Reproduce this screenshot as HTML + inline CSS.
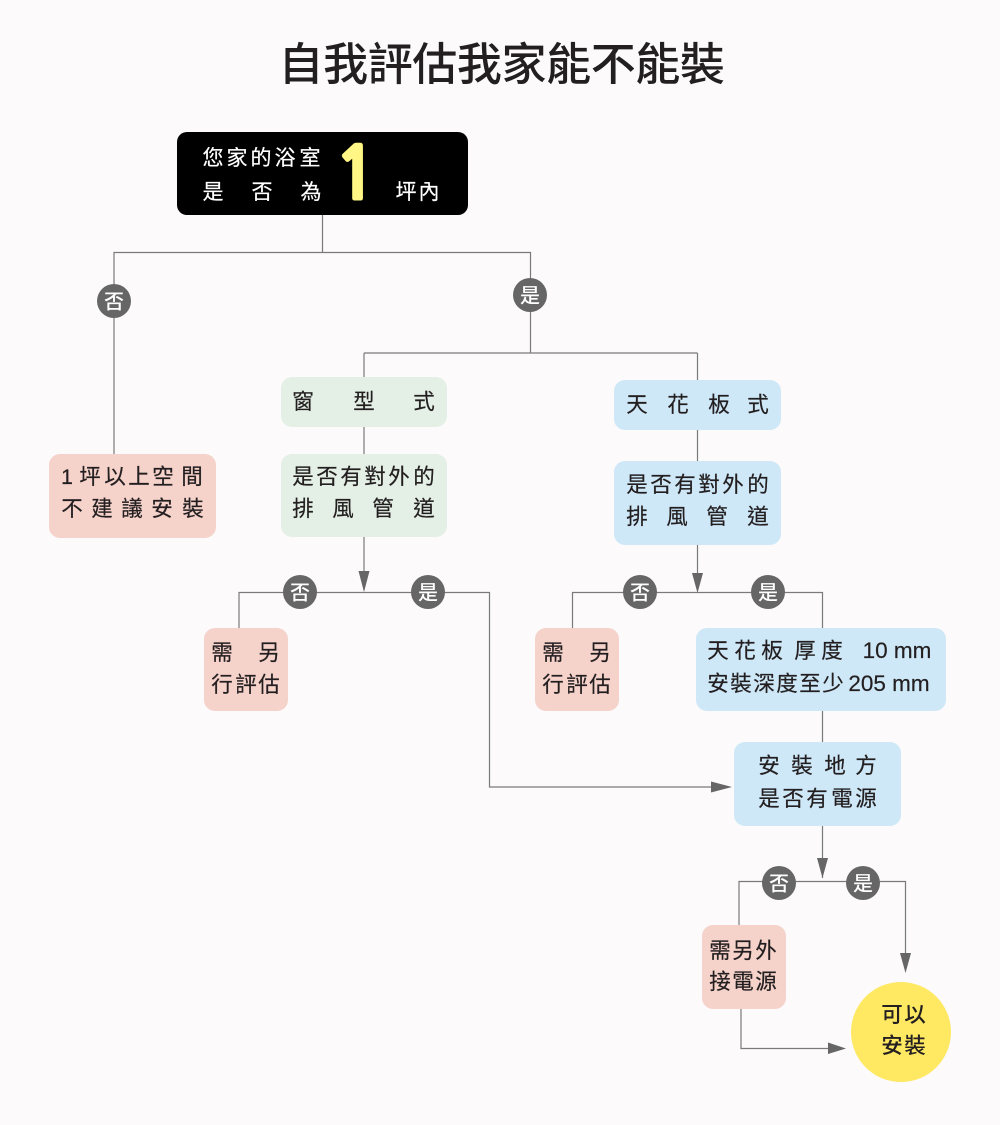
<!DOCTYPE html>
<html><head><meta charset="utf-8"><style>
html,body{margin:0;padding:0;background:#fcfafb}
svg{display:block}
text{font-family:"Liberation Sans","Noto Sans CJK TC",sans-serif;font-size:21.500px;fill:#231f20;text-anchor:middle;stroke:#231f20;stroke-width:.2}
.c{font-family:"Noto Sans CJK TC","Liberation Sans",sans-serif}
.w{fill:#fff;stroke:#fff}
.l{fill:none;stroke:#7a7a7a;stroke-width:1.2}
.a{fill:#666}
.b{fill:#fff;stroke:none;font-size:20px;font-weight:500}
</style></head><body>
<svg width="1000" height="1125" viewBox="0 0 1000 1125" xmlns="http://www.w3.org/2000/svg">
<rect width="1000" height="1125" fill="#fcfafb"/>
<text class="c" x="301 345.6 390.2 434.8 479.4 524 568.6 613.2 657.8 702.4" y="80" style="font-size:45px;font-weight:500;stroke:none">自我評估我家能不能裝</text>

<path class="l" d="M322.500 215V252.500H114V454M322.500 252.500H530.500V353M364 353H697.500M364 353V377M364 427V454M364 537V590M697.500 353V380M697.500 430V461M697.500 545V590M239 628V592.500H489.500V787H712M572.500 628V592.500H822.500V628M822.500 711V742M822.500 826V878M739 925V881.500H905.500V955M741 1009V1048.500H832"/>
<path class="a" d="M358.500 571H369.500L364 592ZM692 573H703L697.500 593ZM711 781.500V792.500L732 787ZM817 858H828L822.500 878ZM900 953H911L905.500 973ZM828 1042.500V1054L846 1048.500Z"/>

<rect x="177" y="132" width="291" height="83" rx="10" fill="#000"/>
<g fill="#f5d2ca">
<rect x="49" y="454" width="167" height="84" rx="11"/>
<rect x="204" y="628" width="84" height="83" rx="11"/>
<rect x="535" y="628" width="84" height="83" rx="11"/>
<rect x="702" y="925" width="84" height="84" rx="11"/>
</g>
<g fill="#e4f0e6">
<rect x="281" y="377" width="166" height="50" rx="11"/>
<rect x="281" y="454" width="166" height="83" rx="11"/>
</g>
<g fill="#cfe8f8">
<rect x="614" y="380" width="167" height="50" rx="11"/>
<rect x="614" y="461" width="167" height="84" rx="11"/>
<rect x="696" y="628" width="250" height="83" rx="11"/>
<rect x="734" y="742" width="167" height="84" rx="11"/>
</g>
<circle cx="901" cy="1032" r="50" fill="#ffe862"/>
<g fill="#666">
<circle cx="114" cy="301" r="17"/><circle cx="530" cy="295" r="17"/>
<circle cx="300" cy="592" r="17"/><circle cx="428" cy="592" r="17"/>
<circle cx="640" cy="592" r="17"/><circle cx="768" cy="592" r="17"/>
<circle cx="779" cy="883" r="17"/><circle cx="863" cy="883" r="17"/>
</g>

<text class="c b" x="114" y="308.500">否</text><text class="c b" x="530" y="302.500">是</text>
<text class="c b" x="300" y="599.500">否</text><text class="c b" x="428" y="599.500">是</text>
<text class="c b" x="640" y="599.500">否</text><text class="c b" x="768" y="599.500">是</text>
<text class="c b" x="779" y="890.500">否</text><text class="c b" x="863" y="890.500">是</text>

<text class="c w" x="213 237 261 285 310" y="165" style="font-size:21px">您家的浴室</text>
<text class="c w" x="213 262 311" y="199" style="font-size:21px">是否為</text>
<text class="c w" x="406 429" y="199" style="font-size:21px">坪內</text>
<text x="356" y="199" style="font-family:NanumGothic,'Liberation Sans',sans-serif;font-size:72px;font-weight:700;fill:#fff685;stroke:#fff685;stroke-width:3">1</text>

<text x="67 90 115 139 163 192" y="484">1坪以上空間</text>
<text class="c" x="72 102 132 162 193" y="516">不建議安裝</text>

<text class="c" x="303 364 424" y="409">窗型式</text>
<text class="c" x="303 327 351 375 399 424" y="484">是否有對外的</text>
<text class="c" x="303 343 383 424" y="516">排風管道</text>

<text class="c" x="637 678 719 758" y="412">天花板式</text>
<text class="c" x="637 661 685 709 733 758" y="492">是否有對外的</text>
<text class="c" x="637 677 717 758" y="524">排風管道</text>

<text class="c" x="222 269" y="660">需另</text>
<text class="c" x="222 246 269" y="692">行評估</text>
<text class="c" x="553 600" y="660">需另</text>
<text class="c" x="553 577 600" y="692">行評估</text>

<text class="c" x="718 745 772 805 832" y="658">天花板厚度</text>
<text x="897" y="658" style="font-size:22.500px">10 mm</text>
<text class="c" x="718 741 764 787 810 833" y="691">安裝深度至少</text>
<text x="889" y="691" style="font-size:22.500px">205 mm</text>

<text class="c" x="769 802 835 866" y="773">安裝地方</text>
<text class="c" x="769 793 817 842 866" y="806">是否有電源</text>

<text class="c" x="720 743 766" y="958">需另外</text>
<text class="c" x="720 743 766" y="989">接電源</text>

<text class="c" x="892 915" y="1022" style="font-weight:500;stroke:none">可以</text>
<text class="c" x="892 915" y="1053" style="font-weight:500;stroke:none">安裝</text>
</svg>
</body></html>
